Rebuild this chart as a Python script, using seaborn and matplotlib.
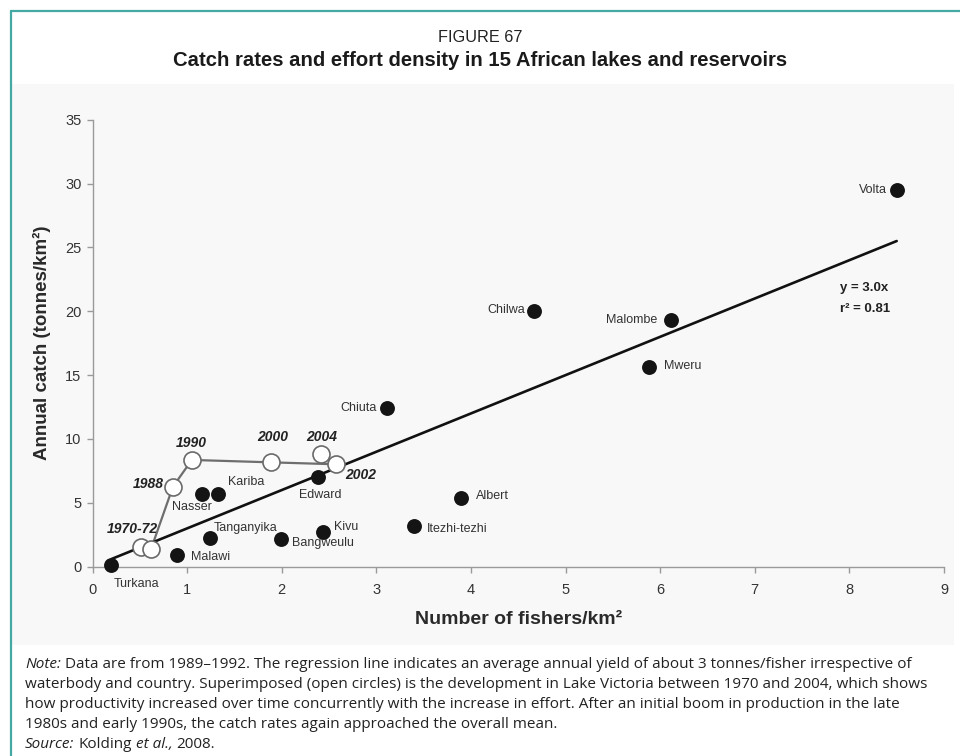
import numpy as np
import pandas as pd
import seaborn as sns
import matplotlib
matplotlib.use("Agg")
import matplotlib.pyplot as plt
from matplotlib.patches import Rectangle
from matplotlib.lines import Line2D

# ---- Lakes and reservoirs (1989-1992) ----
lakes = ["Turkana", "Malawi", "Tanganyika", "Nasser", "Kariba", "Bangweulu", "Kivu",
         "Edward", "Itezhi-tezhi", "Albert", "Chiuta", "Chilwa", "Mweru", "Malombe", "Volta"]
fishers = [0.20, 0.89, 1.24, 1.16, 1.33, 1.99, 2.44, 2.38, 3.40, 3.90, 3.11, 4.67, 5.88, 6.11, 8.50]
catch = [0.15, 0.90, 2.25, 5.70, 5.70, 2.15, 2.75, 7.00, 3.20, 5.35, 12.40, 20.05, 15.60, 19.30, 29.50]

# ---- Lake Victoria, 1970-2004 (open circles) ----
victoria_fishers = [0.51, 0.62, 0.85, 1.05, 1.89, 2.57, 2.42]
victoria_catch = [1.57, 1.41, 6.26, 8.36, 8.17, 8.02, 8.80]
victoria_labels = ["1970-72", "1988", "1990", "2000", "2002", "2004"]
victoria_label_points = [0, 2, 3, 4, 5, 6]

# ---- Regression ----
slope = 3.0
r_squared = 0.81
fit_range = [0.2, 8.5]

x_ticks = list(range(0, 10))
y_ticks = list(range(0, 40, 5))

W, H = 960, 756
DPI = 100

PLOT_FONT = "Liberation Sans"
TEXT_FONT = "Open Sans"
TITLE_FONT = "Liberation Sans"

sns.set_theme(style="ticks")
plt.rcParams["font.family"] = [PLOT_FONT, "DejaVu Sans"]

fig = plt.figure(figsize=(W / DPI, H / DPI), dpi=DPI)
fig.patch.set_facecolor("white")


def fx(px):
    return px / W


def fy(py):
    return 1 - py / H


# light grey panel behind the chart
fig.patches.append(Rectangle((fx(12), fy(645)), fx(954) - fx(12), fy(84) - fy(645),
                             transform=fig.transFigure, facecolor="#f8f8f8",
                             edgecolor="none", zorder=-5))
# teal frame
frame_col = "#43a9a2"
fig.lines.append(Line2D([fx(11), fx(11)], [0, fy(11)], transform=fig.transFigure,
                        color=frame_col, lw=1.6, zorder=-4))
fig.lines.append(Line2D([fx(11), 1], [fy(11), fy(11)], transform=fig.transFigure,
                        color=frame_col, lw=1.6, zorder=-4))

ax = fig.add_axes([fx(92.5), fy(566.7), fx(944) - fx(92.5), fy(119.7) - fy(566.7)])
ax.set_zorder(1)
ax.set_facecolor("none")

lake_df = pd.DataFrame({"lake": lakes, "fishers": fishers, "catch": catch})
vic_df = pd.DataFrame({"fishers": victoria_fishers, "catch": victoria_catch})
fit_x = np.array(fit_range)
fit_df = pd.DataFrame({"fishers": fit_x, "catch": slope * fit_x})

sns.lineplot(data=vic_df, x="fishers", y="catch", sort=False, estimator=None,
             color="#6e6e6e", lw=1.6, ax=ax, zorder=2)
sns.lineplot(data=fit_df, x="fishers", y="catch", color="#111111", lw=1.9, ax=ax, zorder=3)
sns.scatterplot(data=vic_df, x="fishers", y="catch", color="white", edgecolor="#6a6a6a",
                linewidth=1.2, s=150, ax=ax, zorder=4, clip_on=False)
sns.scatterplot(data=lake_df, x="fishers", y="catch", color="#141414", edgecolor="#141414",
                linewidth=0, s=115, ax=ax, zorder=5, clip_on=False)

ax.set_xlim(0, 9)
ax.set_ylim(0, 35)
ax.set_xticks(x_ticks)
ax.set_yticks(y_ticks)
sns.despine(ax=ax)
for side in ["left", "bottom"]:
    ax.spines[side].set_color("#9a9a9a")
    ax.spines[side].set_linewidth(1.0)
ax.tick_params(axis="both", colors="#9a9a9a", labelcolor="#333333", labelsize=10.5,
               length=4, width=1.0, direction="out")
ax.tick_params(axis="x", pad=8)
ax.tick_params(axis="y", pad=4)
ax.set_xlabel("Number of fishers/km²", fontsize=14, fontweight="bold", color="#2a2a2a",
              labelpad=10)
ax.set_ylabel("Annual catch (tonnes/km²)", fontsize=13.5, fontweight="bold",
              color="#2a2a2a", labelpad=10)

# lake labels: offsets in pixels (dx right, dy up) and alignment
lake_label_pos = {
    "Turkana": (2, -19, "left"), "Malawi": (14, -2, "left"), "Tanganyika": (4, 10, "left"),
    "Nasser": (-10, -13, "center"), "Kariba": (10, 12, "left"), "Edward": (3, -18, "center"),
    "Kivu": (11, 5, "left"), "Bangweulu": (11, -4, "left"), "Itezhi-tezhi": (13, -3, "left"),
    "Albert": (14, 2, "left"), "Chiuta": (-10, 0, "right"), "Chilwa": (-9, 1, "right"),
    "Malombe": (-13, 0, "right"), "Mweru": (15, 1, "left"), "Volta": (-10, 0, "right"),
}
pt = 72 / DPI
for name, xv, yv in zip(lakes, fishers, catch):
    dx, dy, ha = lake_label_pos[name]
    ax.annotate(name, (xv, yv), xytext=(dx * pt, dy * pt), textcoords="offset points",
                ha=ha, va="center", fontsize=9, color="#333333", zorder=6)

year_label_pos = [(-8, 18, "center"), (-9, 3, "right"), (-1, 17, "center"),
                  (1.5, 25, "center"), (10, -11, "left"), (0, 17.5, "center")]
for lab, idx, (dx, dy, ha) in zip(victoria_labels, victoria_label_points, year_label_pos):
    ax.annotate(lab, (victoria_fishers[idx], victoria_catch[idx]), xytext=(dx * pt, dy * pt),
                textcoords="offset points", ha=ha, va="center", fontsize=10,
                fontweight="bold", fontstyle="italic", color="#222222", zorder=6)

ax.text(7.9, 21.8, f"y = {slope:.1f}x", fontsize=9.5, fontweight="bold", color="#222222",
        ha="left", va="center")
ax.text(7.9, 20.2, f"r² = {r_squared:.2f}", fontsize=9.5, fontweight="bold",
        color="#222222", ha="left", va="center")

# ---- titles ----
renderer = fig.canvas.get_renderer()


def fitted_size(text, target_px, base=12, **kw):
    t = fig.text(0, 0, text, fontsize=base, **kw)
    w = t.get_window_extent(renderer).width
    t.remove()
    return base * target_px / w


fig.text(0.5, fy(37), "FIGURE 67", ha="center", va="center", color="#222222",
         fontsize=fitted_size("FIGURE 67", 84, family=TITLE_FONT), family=TITLE_FONT)
title2 = "Catch rates and effort density in 15 African lakes and reservoirs"
fig.text(0.5, fy(60), title2, ha="center", va="center", color="#1a1a1a", fontweight="bold",
         family=TITLE_FONT,
         fontsize=fitted_size(title2, 610, family=TITLE_FONT, fontweight="bold"))

# ---- note ----
note_lines = [
    [("Note:", "italic"), ("Data are from 1989–1992. The regression line indicates an average annual yield of about 3 tonnes/fisher irrespective of", "normal")],
    [("waterbody and country. Superimposed (open circles) is the development in Lake Victoria between 1970 and 2004, which shows", "normal")],
    [("how productivity increased over time concurrently with the increase in effort. After an initial boom in production in the late", "normal")],
    [("1980s and early 1990s, the catch rates again approached the overall mean.", "normal")],
    [("Source:", "italic"), ("Kolding", "normal"), ("et al.,", "italic"), ("2008.", "normal")],
]


def space_width(size):
    a = fig.text(0, 0, "x x", fontsize=size, family=TEXT_FONT)
    b = fig.text(0, 0, "xx", fontsize=size, family=TEXT_FONT)
    w = a.get_window_extent(renderer).width - b.get_window_extent(renderer).width
    a.remove()
    b.remove()
    return w


def run_width(runs, size):
    total = 0
    for txt, style in runs:
        t = fig.text(0, 0, txt, fontsize=size, style=style, family=TEXT_FONT)
        total += t.get_window_extent(renderer).width
        t.remove()
    return total + space_width(size) * (len(runs) - 1)


note_x0 = 25
note_size = 10 * (912 - note_x0) / run_width(note_lines[0], 10)
sp = space_width(note_size)
note_y = [664, 684, 704, 724, 744]
for runs, ypx in zip(note_lines, note_y):
    x = note_x0
    for txt, style in runs:
        t = fig.text(fx(x), fy(ypx), txt, fontsize=note_size, style=style, family=TEXT_FONT,
                     ha="left", va="center", color="#222222")
        x += t.get_window_extent(renderer).width + sp

fig.savefig("out.png", dpi=DPI)
